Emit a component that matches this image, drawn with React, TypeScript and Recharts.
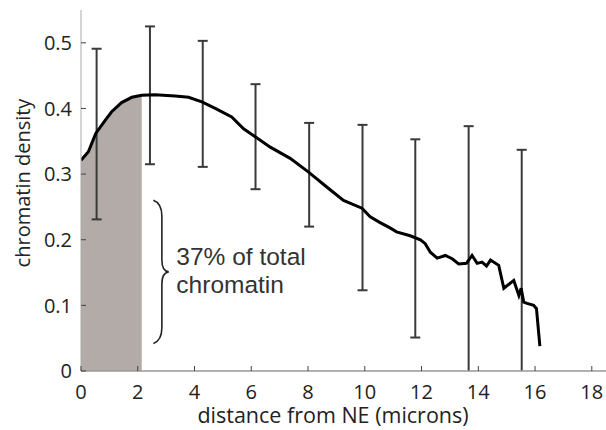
import React from 'react';
import {
  ComposedChart,
  Area,
  Line,
  Scatter,
  ErrorBar,
  XAxis,
  YAxis,
} from 'recharts';

// profile (distance in microns, density)
const curveX = [
  0, 0.26, 0.52, 0.85, 1.08, 1.43, 1.79, 2.14, 2.61, 3.32, 3.79, 4.26, 4.73, 5.31,
  5.73, 6.14, 6.67, 7.37, 8.02, 8.67, 9.25, 9.9, 10.19, 10.54, 10.89, 11.12, 11.6,
  11.96, 12.13, 12.31, 12.55, 12.84, 13.08, 13.31, 13.58, 13.78, 13.96, 14.13,
  14.29, 14.43, 14.72, 14.9, 15.25, 15.43, 15.51, 15.6, 15.72, 15.95, 16.05, 16.17,
];
const curveY = [
  0.321, 0.334, 0.362, 0.382, 0.395, 0.409, 0.417, 0.42, 0.421, 0.419, 0.417, 0.41,
  0.4, 0.387, 0.369, 0.357, 0.341, 0.324, 0.303, 0.28, 0.26, 0.248, 0.235, 0.226,
  0.218, 0.212, 0.206, 0.2, 0.194, 0.181, 0.172, 0.176, 0.171, 0.163, 0.164, 0.176,
  0.164, 0.166, 0.16, 0.169, 0.161, 0.126, 0.138, 0.115, 0.126, 0.105, 0.103, 0.1,
  0.095, 0.038,
];

// error bars
const barX = [0.55, 2.43, 4.29, 6.15, 8.04, 9.92, 11.78, 13.66, 15.53];
const barMean = [0.361, 0.42, 0.407, 0.357, 0.299, 0.249, 0.202, 0.165, 0.12];
const barErr = [0.13, 0.105, 0.096, 0.08, 0.079, 0.126, 0.151, 0.208, 0.217];

const xTicks = [0, 2, 4, 6, 8, 10, 12, 14, 16, 18];
const yTicks = [0, 0.1, 0.2, 0.3, 0.4, 0.5];
const shadeLimit = 2.14;

const X_MAX = 18.5;
const Y_MAX = 0.55;

// plot box (px) – used for the annotation overlay / clip only
const LEFT = 81;
const TOP = 10;
const W = 606 - LEFT;
const H = 430 - 59 - TOP;
const px = (x: number) => LEFT + (x / X_MAX) * W;
const py = (y: number) => TOP + H * (1 - y / Y_MAX);

const curveData = curveX.map((x, i) => ({ x, y: curveY[i] }));
const shadeData = curveData.filter((d) => d.x <= shadeLimit);
const barData = barX.map((x, i) => ({ x, y: barMean[i], err: barErr[i] }));

const tickFont = { fontFamily: '"Open Sans", sans-serif', fontSize: 20, fill: '#222' };

const BottomTick = ({ x, y, payload }: any) => (
  <g>
    <line x1={x} x2={x} y1={y} y2={y - 5} stroke="#444" />
    <text x={x} y={y + 28} textAnchor="middle" {...tickFont}>
      {payload.value}
    </text>
  </g>
);
const TopTick = ({ x, y }: any) => (
  <line x1={x} x2={x} y1={y} y2={y + 5} stroke="#444" />
);
const LeftTick = ({ x, y, payload }: any) => (
  <g>
    <line x1={x} x2={x + 5} y1={y} y2={y} stroke="#444" />
    <text x={x - 9} y={y} dy="0.36em" textAnchor="end" {...tickFont}>
      {payload.value}
    </text>
  </g>
);
const RightTick = ({ x, y }: any) => (
  <line x1={x} x2={x - 5} y1={y} y2={y} stroke="#444" />
);

export default function App() {
  const braceTop = py(0.26);
  const braceBot = py(0.042);
  const braceMid = (braceTop + braceBot) / 2;
  const bx = px(2.55);
  const bv = px(2.85);
  const bt = px(3.09);
  return (
    <div style={{ position: 'absolute', left: 0, top: 0, width: 606, height: 430, background: '#fff' }}>
      <style>{`.recharts-errorBars, .ebars { clip-path: url(#plotClip); }`}</style>
      <ComposedChart width={606} height={430} margin={{ top: 10, right: 0, bottom: 0, left: 0 }}>
        <XAxis
          xAxisId="b"
          type="number"
          dataKey="x"
          domain={[0, X_MAX]}
          ticks={xTicks}
          allowDataOverflow
          height={59}
          tickSize={0}
          tickMargin={0}
          tickLine={false}
          tick={BottomTick}
          axisLine={{ stroke: '#999', strokeWidth: 1.5 }}
          label={{
            content: () => (
              <text x={333} y={423} textAnchor="middle" fontFamily='"Open Sans", sans-serif' fontSize={21.5} fill="#222">
                distance from NE (microns)
              </text>
            ),
          }}
        />
        <XAxis
          xAxisId="t"
          orientation="top"
          type="number"
          dataKey="x"
          domain={[0, X_MAX]}
          ticks={xTicks}
          allowDataOverflow
          height={0}
          tickSize={0}
          tickMargin={0}
          tickLine={false}
          tick={TopTick}
          axisLine={{ stroke: '#bbb', strokeWidth: 1.5 }}
        />
        <YAxis
          yAxisId="l"
          type="number"
          domain={[0, Y_MAX]}
          ticks={yTicks}
          allowDataOverflow
          width={81}
          tickSize={0}
          tickMargin={0}
          tickLine={false}
          tick={LeftTick}
          axisLine={{ stroke: '#aaa' }}
          label={{
            content: () => (
              <text
                x={22}
                y={183}
                transform="rotate(-90 22 183)"
                textAnchor="middle"
                dominantBaseline="central"
                fontFamily='"Open Sans", sans-serif'
                fontSize={20}
                fill="#222"
              >
                chromatin density
              </text>
            ),
          }}
        />
        <YAxis
          yAxisId="r"
          orientation="right"
          type="number"
          domain={[0, Y_MAX]}
          ticks={yTicks}
          allowDataOverflow
          width={0}
          tickSize={0}
          tickMargin={0}
          tickLine={false}
          tick={RightTick}
          axisLine={false}
        />
        <Area
          xAxisId="b"
          yAxisId="l"
          data={shadeData}
          dataKey="y"
          type="linear"
          stroke="none"
          fill="#b2aba7"
          fillOpacity={1}
          isAnimationActive={false}
        />
        <Scatter
          className="ebars"
          xAxisId="b"
          yAxisId="l"
          data={barData}
          dataKey="y"
          shape={() => <g />}
          isAnimationActive={false}
        >
          <ErrorBar dataKey="err" direction="y" width={5} stroke="#3a3a3a" strokeWidth={2} isAnimationActive={false} />
        </Scatter>
        <Line
          xAxisId="b"
          yAxisId="l"
          data={curveData}
          dataKey="y"
          type="linear"
          stroke="#000"
          strokeWidth={3}
          dot={false}
          isAnimationActive={false}
        />
      </ComposedChart>
      <svg width={606} height={430} style={{ position: 'absolute', left: 0, top: 0, pointerEvents: 'none' }}>
        <defs>
          <clipPath id="plotClip" clipPathUnits="userSpaceOnUse">
            <rect x={LEFT} y={TOP - 2} width={W} height={H + 2} />
          </clipPath>
        </defs>
        <path
          d={`M ${bx} ${braceTop} Q ${bv} ${braceTop + 3} ${bv} ${braceTop + 16} L ${bv} ${braceMid - 12} Q ${bv} ${braceMid - 1} ${bt} ${braceMid} Q ${bv} ${braceMid + 1} ${bv} ${braceMid + 12} L ${bv} ${braceBot - 16} Q ${bv} ${braceBot - 3} ${bx} ${braceBot}`}
          fill="none"
          stroke="#222"
          strokeWidth={1.6}
        />
        <text x={px(3.36)} y={265} fontFamily='"Liberation Sans", Arial, sans-serif' fontSize={24.5} fill="#333">
          37% of total
        </text>
        <text x={px(3.36)} y={293} fontFamily='"Liberation Sans", Arial, sans-serif' fontSize={24.5} fill="#333">
          chromatin
        </text>
      </svg>
    </div>
  );
}
